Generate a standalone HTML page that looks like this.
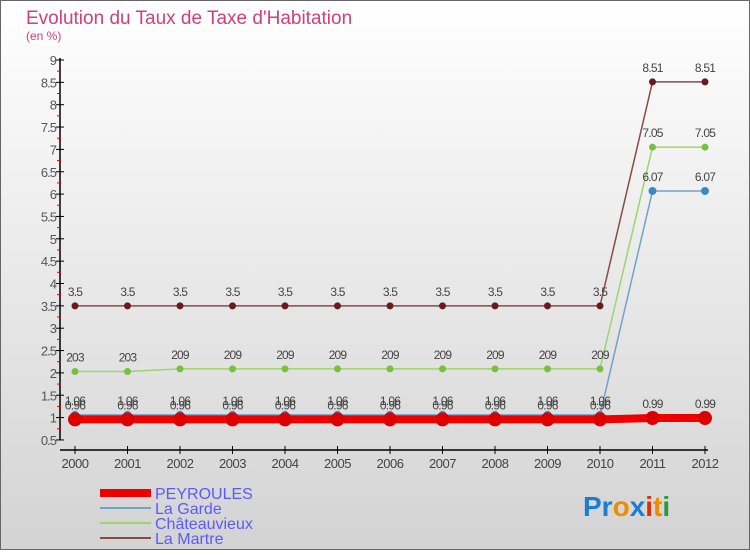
<!DOCTYPE html>
<html><head><meta charset="utf-8"><style>
body{margin:0;width:750px;height:550px;overflow:hidden;font-family:"Liberation Sans",sans-serif}
</style></head><body>
<svg width="750" height="550" xmlns="http://www.w3.org/2000/svg">
<defs><linearGradient id="bg" x1="0" y1="0" x2="0" y2="1"><stop offset="0" stop-color="#ffffff"/><stop offset="1" stop-color="#d3d3d3"/></linearGradient></defs>
<rect x="0.5" y="0.5" width="749" height="549" fill="url(#bg)" stroke="#666"/>
<text x="26" y="24" font-size="19" fill="#d0407a">Evolution du Taux de Taxe d'Habitation</text>
<text x="26" y="40" font-size="12" fill="#d0407a">(en %)</text>
<g id="axes"></g><g id="series"></g>
<g>
<rect x="100" y="489" width="51" height="8" fill="#e00"/>
<line x1="100" y1="508" x2="151" y2="508" stroke="#6fa3c8" stroke-width="2"/>
<line x1="100" y1="523" x2="151" y2="523" stroke="#9ed56a" stroke-width="2"/>
<line x1="100" y1="538" x2="151" y2="538" stroke="#8a4a4a" stroke-width="2"/>
<text x="155" y="499" font-size="16" fill="#5a5aff">PEYROULES</text>
<text x="155" y="514" font-size="16" fill="#5a5aff">La Garde</text>
<text x="155" y="529" font-size="16" fill="#5a5aff">Châteauvieux</text>
<text x="155" y="544" font-size="16" fill="#5a5aff">La Martre</text>
</g>
<text x="583" y="516" font-size="28" font-weight="bold"><tspan fill="#1a7fd0">Pr</tspan><tspan fill="#f08a00">o</tspan><tspan fill="#1a7fd0">x</tspan><tspan fill="#e03000">i</tspan><tspan fill="#f08a00">t</tspan><tspan fill="#2a9a3a">i</tspan></text>
</svg>
<script>
const years=[2000,2001,2002,2003,2004,2005,2006,2007,2008,2009,2010,2011,2012];
const peyroules=[0.96,0.96,0.96,0.96,0.96,0.96,0.96,0.96,0.96,0.96,0.96,0.99,0.99];
const laGarde=[1.06,1.06,1.06,1.06,1.06,1.06,1.06,1.06,1.06,1.06,1.06,6.07,6.07];
const chateauvieux=[2.03,2.03,2.09,2.09,2.09,2.09,2.09,2.09,2.09,2.09,2.09,7.05,7.05];
const laMartre=[3.5,3.5,3.5,3.5,3.5,3.5,3.5,3.5,3.5,3.5,3.5,8.51,8.51];
const yTicks=[0.5,1,1.5,2,2.5,3,3.5,4,4.5,5,5.5,6,6.5,7,7.5,8,8.5,9];
const NS="http://www.w3.org/2000/svg";
const xs=i=>75+i*52.5, ys=v=>60+(9-v)*44.7;
function mk(t,a,p){const e=document.createElementNS(NS,t);for(const k in a)e.setAttribute(k,a[k]);p.appendChild(e);return e;}
const ax=document.getElementById('axes');
let e=mk('line',{x1:60,y1:58,x2:60,y2:440,stroke:'#000','stroke-width':1.5},ax);

e=mk('line',{x1:60,y1:450,x2:708,y2:450,stroke:'#000','stroke-width':1.5},ax);

yTicks.forEach(v=>{const y=ys(v);
 mk('line',{x1:56,y1:y,x2:64,y2:y,stroke:'#000'},ax);
 if(v<9) mk('line',{x1:57,y1:y-11.2,x2:61,y2:y-11.2,stroke:'#e00'},ax);
 e=mk('text',{x:56,y:y+5,'font-size':13,fill:'#555','text-anchor':'end','letter-spacing':'-1'},ax);
 e.textContent=String(v);});
years.forEach((yr,i)=>{const x=xs(i);
 mk('line',{x1:x,y1:446,x2:x,y2:454,stroke:'#000'},ax);
 e=mk('text',{x:x,y:468,'font-size':13,fill:'#444','text-anchor':'middle','letter-spacing':'-0.5'},ax);
 e.textContent=String(yr);});
const sg=document.getElementById('series');
function series(name,vals,col,dot,w,r,lab){
 const g=mk('g',{},sg);
 e=mk('polyline',{points:vals.map((v,i)=>xs(i)+','+ys(v)).join(' '),fill:'none',stroke:col,'stroke-width':w},g);
 
 vals.forEach((v,i)=>{e=mk('circle',{cx:xs(i),cy:ys(v),r:r,fill:dot},g);
  
  if(lab){e=mk('text',{x:xs(i),y:ys(v)-10,'font-size':12,fill:'#444','text-anchor':'middle','letter-spacing':'-0.8'},g);
  
  e.textContent=String(v).replace(/^(\d)\.(\d)$/,'$1.$2').replace('2.03','203').replace('2.09','209');}});
}
series('la-martre',laMartre,'#8a4a4a','#6a1a1a',1.5,3.5,true);
series('chateauvieux',chateauvieux,'#9ed56a','#7ac040',1.5,3.5,true);
series('la-garde',laGarde,'#6fa3c8','#3a88c8',1.5,4,true);
series('peyroules',peyroules,'#e00','#d00',8,7,true);
</script>
</body></html>
